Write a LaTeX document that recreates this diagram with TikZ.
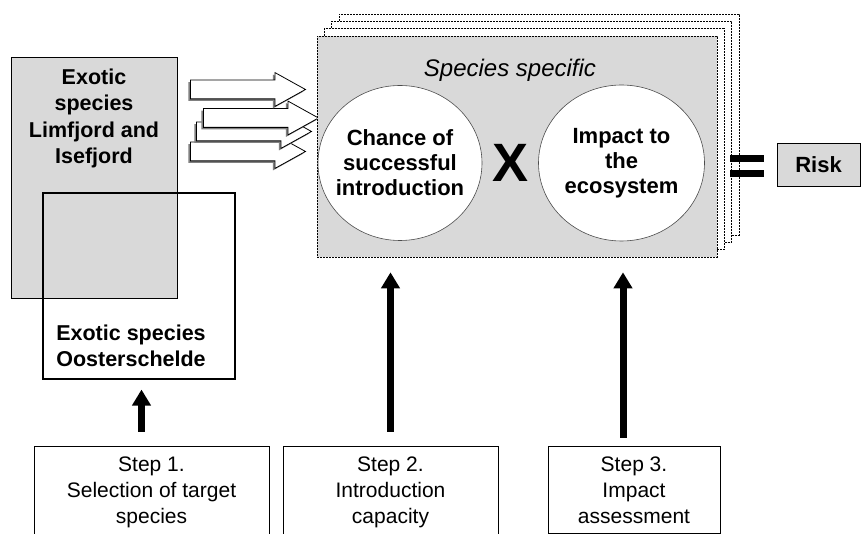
\documentclass[tikz,border=0pt]{standalone}
\usepackage{fontspec}
\setmainfont{Liberation Sans}
\usetikzlibrary{shapes.geometric, shapes.arrows, shadows, arrows.meta}

\tikzset{
    greybox/.style={rectangle, draw=black, fill=black!15, line width=0.9pt, inner sep=0pt},
    framebox/.style={rectangle, draw=black, line width=1.1pt, inner sep=0pt},
    stackback/.style={rectangle, draw=black, fill=white, line width=0.6pt, dash pattern=on 2pt off 1pt, minimum width=400pt, minimum height=221pt},
    stackfront/.style={stackback, fill=black!15},
    blockarrow/.style={single arrow, draw=black, fill=white, line width=0.8pt, minimum height=115pt, minimum width=33pt, single arrow head extend=7.5pt, single arrow tip angle=58, inner xsep=0pt, inner ysep=9pt, drop shadow={shadow xshift=-2pt, shadow yshift=-2pt, fill=black!50, opacity=1}},
    factor/.style={ellipse, draw=black!70, fill=white, line width=0.6pt, inner sep=0pt},
    factortext/.style={align=center, inner sep=0pt, font=\bfseries\fontsize{22}{25}\selectfont},
    stepbox/.style={rectangle, draw=black, line width=0.9pt, align=center, inner ysep=10pt, font=\fontsize{21}{26}\selectfont},
    uparrow/.style={line width=7pt, -{Triangle[width=18pt, length=16pt]}},
}

\begin{document}
\begin{tikzpicture}[x=1pt, y=-1pt]
    \clip (0, 0) rectangle (863, 534);

    \node (gbox) [greybox, minimum width=166pt, minimum height=241pt] at (94, 177.5) {};
    \node (gtext) [anchor=north, align=center, inner sep=0pt, font=\bfseries\fontsize{21.5}{26.5}\selectfont] at ([yshift=-12pt]gbox.north) {Exotic\\species\\Limfjord and\\Isefjord};
    \node (osbox) [framebox, minimum width=192pt, minimum height=186pt] at (139, 286) {};
    \node (ostext) [anchor=south, align=center, inner sep=0pt, font=\bfseries\fontsize{21.5}{26}\selectfont] at ([xshift=-8pt, yshift=12.5pt]osbox.south) {Exotic species\\Oosterschelde};

    \node (arr4) [blockarrow] at (239.5, 151.5) {};
    \node (arr3) [blockarrow] at (245.5, 131.5) {};
    \node (arr2) [blockarrow] at (252.5, 118) {};
    \node (arr1) [blockarrow] at (239.5, 89.5) {};

    \node (layer3) [stackback] at (538.9, 124.6) {};
    \node (layer2) [stackback] at (531.6, 131.9) {};
    \node (layer1) [stackback] at (524.3, 139.2) {};
    \node (spec) [stackfront] at (517, 146.5) {};
    \node (title) [font=\itshape\fontsize{24}{26}\selectfont] at (510, 70) {Species specific};

    \node (chance) [factor, minimum width=164pt, minimum height=155pt] at (400, 163) {};
    \node (chancetext) [factortext] at (chance.center) {Chance of\\successful\\introduction};
    \node (impact) [factor, minimum width=166pt, minimum height=156pt] at (621.5, 163) {};
    \node (impacttext) [factortext] at (impact.center) {Impact to\\the\\ecosystem};
    \node (times) [font=\bfseries\fontsize{54}{54}\selectfont, inner sep=0pt] at (511, 163) {X};

    \fill (730, 155) rectangle (764, 162);
    \fill (730, 170) rectangle (764, 177);
    \node (risk) [greybox, minimum width=83pt, minimum height=43pt, font=\bfseries\fontsize{22}{26}\selectfont] at (818.5, 164.5) {Risk};

    \node (step1) [stepbox, minimum width=235pt, anchor=north] at (151.5, 446) {Step 1.\\Selection of target\\species};
    \node (step2) [stepbox, minimum width=215pt, anchor=north] at (390.5, 446) {Step 2.\\Introduction\\capacity};
    \node (step3) [stepbox, minimum width=172pt, anchor=north] at (634, 446) {Step 3.\\Impact\\assessment};

    \draw [uparrow, shorten <=14pt, shorten >=10pt] ([xshift=-10pt]step1.north) -- ([xshift=-10pt]step1.north |- osbox.south);
    \draw [uparrow, shorten <=14pt, shorten >=15pt] (step2.north) -- (step2.north |- spec.south);
    \draw [uparrow, shorten <=8pt, shorten >=15pt] ([xshift=-11pt]step3.north) -- ([xshift=-11pt]step3.north |- spec.south);
\end{tikzpicture}
\end{document}
